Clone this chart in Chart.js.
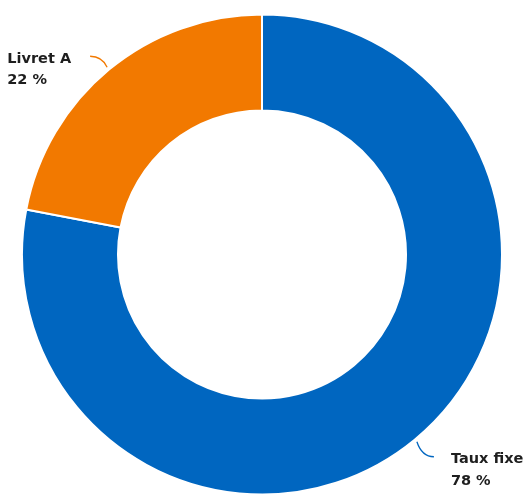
<!DOCTYPE html>
<html>
<head>
<meta charset="utf-8">
<script src="https://cdn.jsdelivr.net/npm/chart.js@4/dist/chart.umd.min.js"></script>
<style>
  html, body { margin: 0; padding: 0; background: #fff; }
  #wrap { width: 530px; height: 498px; }
</style>
</head>
<body>
<div id="wrap"><canvas id="chart"></canvas></div>
<script>
const labels = ['Taux fixe', 'Livret A'];
const values = [78, 22];
const colors = ['#0066c0', '#f27900'];

// draws "name / xx %" next to each slice with a small curved leader
const leaderLabels = {
  id: 'leaderLabels',
  afterDatasetsDraw(chart) {
    const ctx = chart.ctx;
    const meta = chart.getDatasetMeta(0);
    ctx.save();
    ctx.font = 'bold 14.5px "DejaVu Sans", Verdana, sans-serif';
    ctx.textBaseline = 'middle';
    meta.data.forEach((arc, i) => {
      const p = arc.getProps(['x', 'y', 'startAngle', 'endAngle', 'outerRadius']);
      const mid = (p.startAngle + p.endAngle) / 2;
      const dx = Math.cos(mid);
      const dy = Math.sin(mid);
      const sx = dx < 0 ? -1 : 1;
      const sy = dy < 0 ? -1 : 1;
      const x0 = p.x + dx * (p.outerRadius + 3);
      const y0 = p.y + dy * (p.outerRadius + 3);
      const x1 = x0 + sx * 17;
      const y1 = y0 + sy * (sy < 0 ? 11 : 15);

      ctx.strokeStyle = colors[i];
      ctx.lineWidth = 1.3;
      ctx.beginPath();
      ctx.moveTo(x0, y0);
      ctx.quadraticCurveTo(x0 + sx * 5, y1, x1, y1);
      ctx.stroke();

      const lines = [labels[i], values[i] + ' %'];
      const w = Math.max(...lines.map((s) => ctx.measureText(s).width));
      const tx = sx < 0 ? x1 - 19 - w : x1 + 17;
      ctx.fillStyle = '#1e1e1e';
      ctx.textAlign = 'left';
      lines.forEach((s, k) => ctx.fillText(s, tx, y1 + 2.5 + k * 21.5));
    });
    ctx.restore();
  }
};

new Chart(document.getElementById('chart'), {
  type: 'doughnut',
  data: {
    labels,
    datasets: [{
      data: values,
      backgroundColor: colors,
      borderColor: '#ffffff',
      borderWidth: 2
    }]
  },
  options: {
    responsive: true,
    maintainAspectRatio: false,
    animation: false,
    cutout: '60%',
    layout: { padding: { left: 21, right: 27, top: 13, bottom: 2 } },
    plugins: {
      legend: { display: false },
      tooltip: { enabled: false }
    }
  },
  plugins: [leaderLabels]
});
</script>
</body>
</html>
